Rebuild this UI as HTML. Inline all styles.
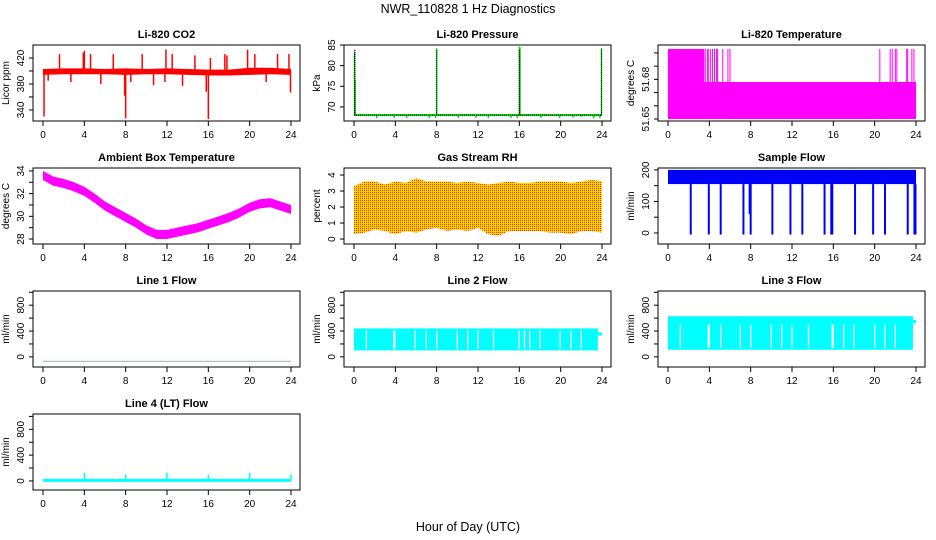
<!DOCTYPE html>
<html><head><meta charset="utf-8"><style>
body{margin:0;background:#fff;}
svg{display:block;font-family:"Liberation Sans",Arial,sans-serif;}
</style></head><body>
<svg id="c" width="936" height="540" viewBox="0 0 936 540" xmlns="http://www.w3.org/2000/svg">
<defs>
<pattern id="rhpat" width="2" height="2" patternUnits="userSpaceOnUse"><rect width="2" height="2" fill="#ffd800"/><rect width="1" height="1" fill="#ff2000"/></pattern>
</defs>
<text x="468" y="13" font-size="12.5" text-anchor="middle">NWR_110828  1 Hz Diagnostics</text>
<text x="468" y="531" font-size="12.5" text-anchor="middle">Hour of Day (UTC)</text>
</svg>
<script>
// ---- data arrays ----
const xTicks=[0,4,8,12,16,20,24];
// CO2
const co2Hours=[0,2,4,6,8,10,12,14,16,18,20,22,24];
const co2Lo=[394,395,395,395,394,395,395,394,393,393,394,395,394];
const co2Hi=[403,404,404,403,404,403,404,403,402,402,405,405,403];
const co2SpikeHours=[0.1,0.5,1.6,2.7,3.9,4.0,4.6,5.6,6.8,7.9,8.0,8.5,9.6,10.7,11.8,11.9,12.5,13.5,14.7,15.8,16.0,16.2,17.6,17.8,19.8,20.5,21.6,22.7,23.8,23.95];
const co2SpikeVals=[330,385,426,383,428,431,426,380,426,362,327,383,426,378,383,433,426,377,424,368,326,420,426,424,433,426,383,426,426,367];
const co2Ticks=[340,360,380,400,420];
const co2Labels=[340,380,420];
// Pressure
const presBase=68.0;
const presBaseLo=67.8, presBaseHi=68.3;
const presSpikeHours=[0.05,0.1,8.0,16.0,16.05,23.95];
const presSpikeVals=[83.2,76.5,84.2,84.6,84.5,84.3];
const presDipHours=[2.2,3.9,5.1,7.3,7.9,10.1,11.8,13.0,15.2,15.8,18.1,19.9,21.2,22.0,23.2,23.8];
const presDipVals=[67.3,67.3,67.3,67.3,67.3,67.3,67.4,67.3,67.3,67.3,67.3,67.3,67.4,67.6,67.2,67.3];
const presTicks=[70,75,80,85];
// Temperature
const tempLow=51.65, tempMid=51.678, tempHigh=51.703;
const tempHighStart=0, tempHighEnd=3.5;
const tempHighHours=[3.6,3.8,3.9,4.1,4.3,4.5,4.7,4.8,5.3,5.8,6.0,20.5,21.5,21.7,22.0,22.15,23.1,23.2,23.6,23.8];
const tempTicks=[51.65,51.66,51.67,51.68,51.69,51.70];
const tempLabels=[51.65,51.68];
// Ambient box temperature
const ambHours=[0,1,2,3,4,5,6,7,8,9,10,11,12,13,14,15,16,17,18,19,20,21,22,23,24];
const ambVals=[33.6,33.1,32.9,32.6,32.2,31.6,30.9,30.4,29.9,29.4,28.8,28.4,28.4,28.6,28.8,29.0,29.3,29.6,29.9,30.3,30.8,31.1,31.2,30.9,30.6];
const ambTicks=[28,29,30,31,32,33,34];
const ambLabels=[28,30,32,34];
// Gas stream RH
const rhHours=[0,1,2,3,4,5,6,7,8,9,10,11,12,13,14,15,16,17,18,19,20,21,22,23,24];
const rhLo=[0.3,0.4,0.6,0.5,0.3,0.5,0.4,0.6,0.7,0.5,0.6,0.5,0.7,0.3,0.2,0.5,0.5,0.5,0.5,0.4,0.4,0.3,0.5,0.5,0.4];
const rhHi=[3.3,3.6,3.6,3.4,3.6,3.5,3.8,3.6,3.6,3.6,3.5,3.6,3.5,3.4,3.5,3.6,3.5,3.5,3.6,3.6,3.6,3.5,3.6,3.7,3.6];
const rhTicks=[0,1,2,3,4];
// Sample flow
const sfLo=155, sfHi=200;
const sfDropHours=[2.2,3.95,5.1,7.3,7.9,8.0,10.1,11.85,13.0,15.15,15.8,15.9,18.1,19.85,21.0,23.2,23.85,23.95];
const sfDropVals=[-5,-5,-5,-5,60,-5,-5,-5,-5,-5,-5,-5,-5,-5,-5,-5,-5,-5];
const sfTicks=[0,50,100,150,200];
const sfLabels=[0,100,200];
// Line flows
const flowTicks=[0,200,400,600,800,1000];
const flowLabels=[0,400,800];
const line1Val=-70;
const line2Lo=100, line2Hi=440, line2End=23.6, line2TailLo=330, line2TailHi=380;
const line2Gaps=[1.2,3.85,3.95,5.9,7.0,8.0,10.0,11.0,12.0,13.5,15.95,16.5,17.0,18.0,19.95,21.0,22.0];
const line3Lo=110, line3Hi=630, line3End=23.7, line3TailLo=520, line3TailHi=570;
const line3Gaps=[1.2,3.9,4.0,5.1,7.0,8.0,10.0,11.0,12.0,13.6,15.9,16.0,17.0,18.0,20.0,21.0,22.0];
const line4Val=10;
const line4SpikeHours=[4,8,12,16,20,24];
const line4SpikeVals=[130,100,130,100,130,100];

// ---- layout ----
const NS="http://www.w3.org/2000/svg";
const svg=document.getElementById('c');
const colL=[33,344,658], rowT=[45,168,291,414], BW=267, BH=76;
function mk(tag,attrs,parent){const e=document.createElementNS(NS,tag);for(const k in attrs)e.setAttribute(k,attrs[k]);(parent||svg).appendChild(e);return e;}
function panel(name,col,row,title,ylab,ydom,yt,yl,showX){
  const L=colL[col],T=rowT[row];
  const g=mk('g',{});
  
  
  const x=h=>L+10+h*(248/24);
  const y=v=>T+BH-(v-ydom[0])/(ydom[1]-ydom[0])*BH;
  const t=mk('text',{x:L+BW/2,y:T-7,'font-size':11,'font-weight':'bold','text-anchor':'middle'},g);
  t.textContent=title;
  
  
  const yl2=mk('text',{x:0,y:0,'font-size':10,'text-anchor':'middle',transform:`translate(${L-24},${T+BH/2}) rotate(-90)`},g);
  yl2.textContent=ylab;
  
  
  const yax=mk('g',{},g);
  
  
  mk('line',{x1:L,x2:L,y1:y(yt[0]),y2:y(yt[yt.length-1]),stroke:'#000'},yax);
  yt.forEach(v=>mk('line',{x1:L-4,x2:L,y1:y(v),y2:y(v),stroke:'#000'},yax));
  yl.forEach(v=>{const tx=mk('text',{x:0,y:0,'font-size':10,'text-anchor':'middle',transform:`translate(${L-9},${y(v)}) rotate(-90)`},yax);tx.textContent=String(v);});
  const xax=mk('g',{},g);
  
  
  mk('line',{x1:x(0),x2:x(24),y1:T+BH,y2:T+BH,stroke:'#000'},xax);
  xTicks.forEach(h=>{mk('line',{x1:x(h),x2:x(h),y1:T+BH,y2:T+BH+5,stroke:'#000'},xax);
    if(showX){const tx=mk('text',{x:x(h),y:T+BH+17,'font-size':10,'text-anchor':'middle'},xax);tx.textContent=String(h);}});
  const data=mk('g',{},g);
  
  
  const box=mk('rect',{x:L,y:T,width:BW,height:BH,fill:'none',stroke:'#000'},g);
  
  
  return {x,y,g:data};
}
function band(p,hs,lo,hi,fill){
  let d='M'+hs.map((h,i)=>p.x(h)+','+p.y(hi[i])).join('L');
  for(let i=hs.length-1;i>=0;i--)d+='L'+p.x(hs[i])+','+p.y(lo[i]);
  return mk('path',{d:d+'Z',fill:fill},p.g);
}
function vline(p,h,v1,v2,col,w){return mk('line',{x1:p.x(h),x2:p.x(h),y1:p.y(v1),y2:p.y(v2),stroke:col,'stroke-width':w||1.2},p.g);}

// CO2
let p=panel('co2',0,0,'Li-820 CO2','Licor ppm',[323,440],co2Ticks,co2Labels,true);
band(p,co2Hours,co2Lo,co2Hi,'#ff0000');
co2SpikeHours.forEach((h,i)=>vline(p,h,400,co2SpikeVals[i],'#ff0000',1.5));
// Pressure
p=panel('pressure',1,0,'Li-820 Pressure','kPa',[66.6,85],presTicks,presTicks,true);
mk('rect',{x:p.x(0),y:p.y(presBaseHi),width:p.x(24)-p.x(0),height:p.y(presBaseLo)-p.y(presBaseHi),fill:'#00e000'},p.g);
presDipHours.forEach((h,i)=>vline(p,h,presBase,presDipVals[i],'#00e000',1.5));
presSpikeHours.forEach((h,i)=>vline(p,h,presBase,presSpikeVals[i],'#00e000',1.5));
mk('line',{x1:p.x(0),x2:p.x(24),y1:p.y(presBase),y2:p.y(presBase),stroke:'#000','stroke-width':1,'stroke-dasharray':'1,1'},p.g);
presSpikeHours.forEach(h=>mk('line',{x1:p.x(h),x2:p.x(h),y1:p.y(presBase),y2:p.y(84),stroke:'#000','stroke-dasharray':'1,1'},p.g));
// Temperature
p=panel('li820-temperature',2,0,'Li-820 Temperature','degrees C',[51.6485,51.706],tempTicks,tempLabels,true);
mk('rect',{x:p.x(0),y:p.y(tempMid),width:p.x(24)-p.x(0),height:p.y(tempLow)-p.y(tempMid),fill:'#ff00ff'},p.g);
mk('rect',{x:p.x(tempHighStart),y:p.y(tempHigh),width:p.x(tempHighEnd)-p.x(tempHighStart),height:p.y(tempLow)-p.y(tempHigh),fill:'#ff00ff'},p.g);
tempHighHours.forEach(h=>vline(p,h,tempLow,tempHigh,'#ff00ff',1));
// Ambient
p=panel('ambient-temperature',0,1,'Ambient Box Temperature','degrees C',[27.56,34.26],ambTicks,ambLabels,true);
band(p,ambHours,ambVals.map(v=>v-0.4),ambVals.map(v=>v+0.4),'#ff00ff');
// RH
p=panel('gas-stream-rh',1,1,'Gas Stream RH','percent',[-0.31,4.44],rhTicks,rhTicks,true);
band(p,rhHours,rhLo,rhHi,'url(#rhpat)');
// Sample flow
p=panel('sample-flow',2,1,'Sample Flow','ml/min',[-35,206],sfTicks,sfLabels,true);
mk('rect',{x:p.x(0),y:p.y(sfHi),width:p.x(24)-p.x(0),height:p.y(sfLo)-p.y(sfHi),fill:'#0000ff'},p.g);
sfDropHours.forEach((h,i)=>vline(p,h,sfLo,sfDropVals[i],'#0000ff',2));
// Line 1
p=panel('line-1-flow',0,2,'Line 1 Flow','ml/min',[-157,1020],flowTicks,flowLabels,true);
mk('line',{x1:p.x(0),x2:p.x(24),y1:p.y(line1Val),y2:p.y(line1Val),stroke:'#a0c8c8','stroke-width':1.2},p.g);
// Line 2
p=panel('line-2-flow',1,2,'Line 2 Flow','ml/min',[-157,1020],flowTicks,flowLabels,true);
mk('rect',{x:p.x(0),y:p.y(line2Hi),width:p.x(line2End)-p.x(0),height:p.y(line2Lo)-p.y(line2Hi),fill:'#00ffff'},p.g);
mk('rect',{x:p.x(line2End),y:p.y(line2TailHi),width:p.x(24)-p.x(line2End),height:p.y(line2TailLo)-p.y(line2TailHi),fill:'#00ffff'},p.g);
line2Gaps.forEach(h=>vline(p,h,line2Lo+20,line2Hi-30,'#fff',1.3));
// Line 3
p=panel('line-3-flow',2,2,'Line 3 Flow','ml/min',[-157,1020],flowTicks,flowLabels,true);
mk('rect',{x:p.x(0),y:p.y(line3Hi),width:p.x(line3End)-p.x(0),height:p.y(line3Lo)-p.y(line3Hi),fill:'#00ffff'},p.g);
mk('rect',{x:p.x(line3End),y:p.y(line3TailHi),width:p.x(24)-p.x(line3End),height:p.y(line3TailLo)-p.y(line3TailHi),fill:'#00ffff'},p.g);
line3Gaps.forEach(h=>vline(p,h,line3Lo+30,line3Hi-130,'#fff',1.3));
// Line 4
p=panel('line-4-flow',0,3,'Line 4 (LT) Flow','ml/min',[-140,1037],flowTicks,flowLabels,true);
mk('line',{x1:p.x(0),x2:p.x(24),y1:p.y(line4Val),y2:p.y(line4Val),stroke:'#00ffff','stroke-width':3},p.g);
line4SpikeHours.forEach((h,i)=>vline(p,h,line4Val,line4SpikeVals[i],'#00ffff',1.5));
</script>
</body></html>
